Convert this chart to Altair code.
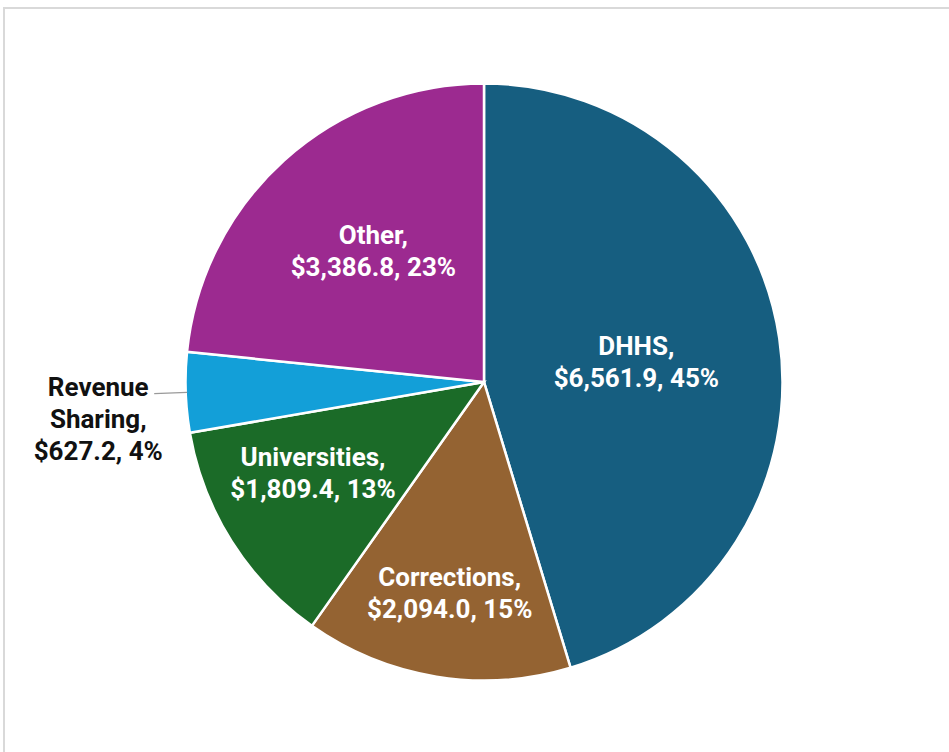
import math
import altair as alt
import pandas as pd

# ---- data ----
categories = ["DHHS", "Corrections", "Universities", "Revenue Sharing", "Other"]
values = [6561.9, 2094.0, 1809.4, 627.2, 3386.8]
pct_labels = [45, 15, 13, 4, 23]

# ---- styling ----
colors = ["#165E80", "#946332", "#1B6B28", "#139FD8", "#9C2A90"]
label_colors = ["white", "white", "white", "#111111", "white"]
# (radius, dx, dy) of each label
label_layout = {
    "DHHS": (154, 0, -12),
    "Corrections": (215, 0, -16),
    "Universities": (194, -7, -28),
    "Revenue Sharing": (387, 1, -8),
    "Other": (171, 4, -19),
}

total = sum(values)
lead_half = total * 0.11 / 360.0

def make_label(name, v, p, outside):
    head = name.replace(" ", "\n") if outside else name
    return f"{head},\n${v:,.1f}, {p}%"

df = pd.DataFrame({
    "category": categories,
    "value": values,
    "pct": pct_labels,
    "order": list(range(len(categories))),
})
df["label"] = [make_label(c, v, p, c == "Revenue Sharing")
               for c, v, p in zip(categories, values, pct_labels)]

theta_scale = alt.Scale(domain=[0, total], range=[0, 2 * math.pi])

base = alt.Chart(df).transform_window(
    cum="sum(value)", sort=[alt.SortField("order")], frame=[None, 0]
).transform_calculate(
    start="datum.cum - datum.value",
    mid="datum.cum - datum.value / 2",
)

pie = base.mark_arc(outerRadius=298.5, stroke="white", strokeWidth=2.5).encode(
    theta=alt.Theta("start:Q", scale=theta_scale, stack=None),
    theta2="cum:Q",
    color=alt.Color("category:N", scale=alt.Scale(domain=categories, range=colors), legend=None),
)

leader = base.transform_filter(alt.datum.category == "Revenue Sharing").transform_calculate(
    l0=f"datum.mid - {lead_half}",
    l1=f"datum.mid + {lead_half}",
).mark_arc(innerRadius=297, outerRadius=330, color="#9a9a9a").encode(
    theta=alt.Theta("l0:Q", scale=theta_scale, stack=None),
    theta2="l1:Q",
)

text_layers = []
for cat, col in zip(categories, label_colors):
    r, dx, dy = label_layout[cat]
    text_layers.append(
        base.transform_filter(alt.datum.category == cat).mark_text(
            radius=r, dx=dx, dy=dy, font="Roboto", fontWeight="bold", fontSize=26,
            lineHeight=32, lineBreak="\n", color=col, align="center", baseline="middle",
        ).encode(
            theta=alt.Theta("mid:Q", scale=theta_scale, stack=None),
            text="label:N",
        )
    )

frame = alt.Chart(alt.Data(values=[{"a": 1}])).mark_rect(
    filled=False, stroke="#d9d9d9", strokeWidth=2
).encode(
    x=alt.value(-30), y=alt.value(-24), x2=alt.value(1000), y2=alt.value(800)
)

chart = alt.layer(frame, pie, leader, *text_layers).properties(
    width=900,
    height=700,
    padding={"left": 34, "top": 32, "right": 15, "bottom": 20},
    autosize=alt.AutoSizeParams(type="none"),
    background="white",
).configure_view(strokeWidth=0)

chart.save("out.html", embed_options={"renderer": "svg", "actions": False})
